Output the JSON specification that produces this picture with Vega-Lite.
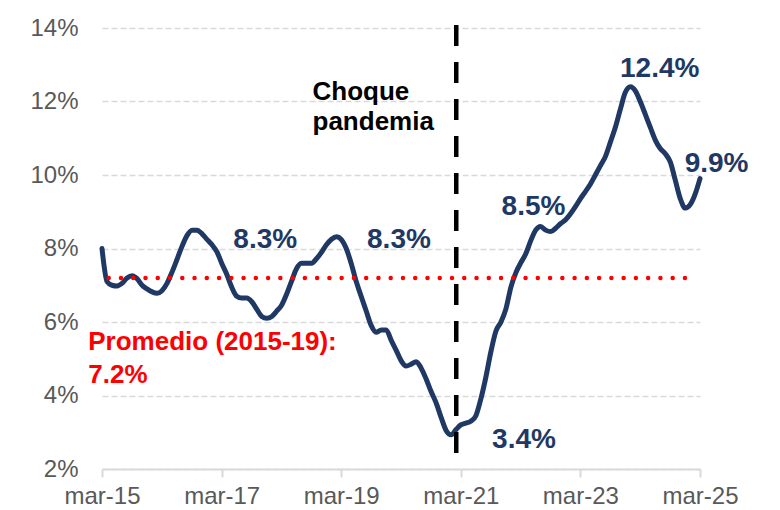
{
  "$schema": "https://vega.github.io/schema/vega-lite/v6.json",
  "autosize": {"type": "none"},
  "width": 598,
  "height": 441,
  "padding": {"left": 102, "top": 28, "right": 80, "bottom": 41},
  "background": "white",
  "config": {"view": {"stroke": null}, "font": "Liberation Sans"},
  "datasets": {
    "series": [
      {"date": "2015-03-01", "value": 8.0},
      {"date": "2015-04-01", "value": 7.1},
      {"date": "2015-05-01", "value": 7.0},
      {"date": "2015-06-01", "value": 6.98},
      {"date": "2015-07-01", "value": 7.05},
      {"date": "2015-08-01", "value": 7.2},
      {"date": "2015-09-01", "value": 7.26},
      {"date": "2015-10-01", "value": 7.18},
      {"date": "2015-11-01", "value": 7.0},
      {"date": "2015-12-01", "value": 6.9},
      {"date": "2016-01-01", "value": 6.82},
      {"date": "2016-02-01", "value": 6.78},
      {"date": "2016-03-01", "value": 6.85},
      {"date": "2016-04-01", "value": 7.05},
      {"date": "2016-05-01", "value": 7.35},
      {"date": "2016-06-01", "value": 7.7},
      {"date": "2016-07-01", "value": 8.05},
      {"date": "2016-08-01", "value": 8.35},
      {"date": "2016-09-01", "value": 8.5},
      {"date": "2016-10-01", "value": 8.5},
      {"date": "2016-11-01", "value": 8.4},
      {"date": "2016-12-01", "value": 8.25},
      {"date": "2017-01-01", "value": 8.1},
      {"date": "2017-02-01", "value": 7.9},
      {"date": "2017-03-01", "value": 7.6},
      {"date": "2017-04-01", "value": 7.3},
      {"date": "2017-05-01", "value": 6.95},
      {"date": "2017-06-01", "value": 6.7},
      {"date": "2017-07-01", "value": 6.65},
      {"date": "2017-08-01", "value": 6.65},
      {"date": "2017-09-01", "value": 6.55},
      {"date": "2017-10-01", "value": 6.35},
      {"date": "2017-11-01", "value": 6.15},
      {"date": "2017-12-01", "value": 6.1},
      {"date": "2018-01-01", "value": 6.15},
      {"date": "2018-02-01", "value": 6.3},
      {"date": "2018-03-01", "value": 6.45},
      {"date": "2018-04-01", "value": 6.75},
      {"date": "2018-05-01", "value": 7.1},
      {"date": "2018-06-01", "value": 7.45},
      {"date": "2018-07-01", "value": 7.6},
      {"date": "2018-08-01", "value": 7.6},
      {"date": "2018-09-01", "value": 7.6},
      {"date": "2018-10-01", "value": 7.72},
      {"date": "2018-11-01", "value": 7.9},
      {"date": "2018-12-01", "value": 8.1},
      {"date": "2019-01-01", "value": 8.25},
      {"date": "2019-02-01", "value": 8.32},
      {"date": "2019-03-01", "value": 8.25},
      {"date": "2019-04-01", "value": 8.0},
      {"date": "2019-05-01", "value": 7.6},
      {"date": "2019-06-01", "value": 7.1},
      {"date": "2019-07-01", "value": 6.7},
      {"date": "2019-08-01", "value": 6.3},
      {"date": "2019-09-01", "value": 5.9},
      {"date": "2019-10-01", "value": 5.72},
      {"date": "2019-11-01", "value": 5.78},
      {"date": "2019-12-01", "value": 5.78},
      {"date": "2020-01-01", "value": 5.5},
      {"date": "2020-02-01", "value": 5.22},
      {"date": "2020-03-01", "value": 4.95},
      {"date": "2020-04-01", "value": 4.8},
      {"date": "2020-05-01", "value": 4.85},
      {"date": "2020-06-01", "value": 4.92},
      {"date": "2020-07-01", "value": 4.75},
      {"date": "2020-08-01", "value": 4.45},
      {"date": "2020-09-01", "value": 4.1},
      {"date": "2020-10-01", "value": 3.8},
      {"date": "2020-11-01", "value": 3.4},
      {"date": "2020-12-01", "value": 3.05},
      {"date": "2021-01-01", "value": 2.93},
      {"date": "2021-02-01", "value": 3.08},
      {"date": "2021-03-01", "value": 3.2},
      {"date": "2021-04-01", "value": 3.25},
      {"date": "2021-05-01", "value": 3.3},
      {"date": "2021-06-01", "value": 3.45},
      {"date": "2021-07-01", "value": 3.9},
      {"date": "2021-08-01", "value": 4.5},
      {"date": "2021-09-01", "value": 5.2},
      {"date": "2021-10-01", "value": 5.75},
      {"date": "2021-11-01", "value": 6.0},
      {"date": "2021-12-01", "value": 6.35},
      {"date": "2022-01-01", "value": 6.95},
      {"date": "2022-02-01", "value": 7.35},
      {"date": "2022-03-01", "value": 7.6},
      {"date": "2022-04-01", "value": 7.85},
      {"date": "2022-05-01", "value": 8.2},
      {"date": "2022-06-01", "value": 8.5},
      {"date": "2022-07-01", "value": 8.6},
      {"date": "2022-08-01", "value": 8.5},
      {"date": "2022-09-01", "value": 8.46},
      {"date": "2022-10-01", "value": 8.55},
      {"date": "2022-11-01", "value": 8.68},
      {"date": "2022-12-01", "value": 8.78},
      {"date": "2023-01-01", "value": 8.95},
      {"date": "2023-02-01", "value": 9.15},
      {"date": "2023-03-01", "value": 9.35},
      {"date": "2023-04-01", "value": 9.55},
      {"date": "2023-05-01", "value": 9.75},
      {"date": "2023-06-01", "value": 10.0},
      {"date": "2023-07-01", "value": 10.25},
      {"date": "2023-08-01", "value": 10.5},
      {"date": "2023-09-01", "value": 10.9},
      {"date": "2023-10-01", "value": 11.3},
      {"date": "2023-11-01", "value": 11.8},
      {"date": "2023-12-01", "value": 12.25},
      {"date": "2024-01-01", "value": 12.4},
      {"date": "2024-02-01", "value": 12.28},
      {"date": "2024-03-01", "value": 12.0},
      {"date": "2024-04-01", "value": 11.65},
      {"date": "2024-05-01", "value": 11.3},
      {"date": "2024-06-01", "value": 10.95},
      {"date": "2024-07-01", "value": 10.72},
      {"date": "2024-08-01", "value": 10.58},
      {"date": "2024-09-01", "value": 10.35},
      {"date": "2024-10-01", "value": 9.86},
      {"date": "2024-11-01", "value": 9.35},
      {"date": "2024-12-01", "value": 9.1},
      {"date": "2025-01-01", "value": 9.2},
      {"date": "2025-02-01", "value": 9.5},
      {"date": "2025-03-01", "value": 9.9}
    ],
    "labels": [
      {"date": "2017-11-22", "value": 8.01, "label": "8.3%"},
      {"date": "2020-02-17", "value": 8.01, "label": "8.3%"},
      {"date": "2022-05-19", "value": 8.91, "label": "8.5%"},
      {"date": "2024-06-28", "value": 12.67, "label": "12.4%"},
      {"date": "2025-06-10", "value": 10.09, "label": "9.9%"},
      {"date": "2022-03-22", "value": 2.56, "label": "3.4%"}
    ]
  },
  "layer": [
    {
      "data": {"name": "series"},
      "mark": {"type": "line", "color": "#1F3864", "strokeWidth": 5, "interpolate": "monotone", "strokeJoin": "round", "strokeCap": "round"},
      "encoding": {
        "x": {
          "field": "date", "type": "temporal",
          "scale": {"type": "utc", "domain": [{"year": 2015, "month": 3, "date": 1, "utc": true}, {"year": 2025, "month": 3, "date": 1, "utc": true}]},
          "axis": {
            "title": null,
            "values": [
              {"year": 2015, "month": 3, "date": 1, "utc": true},
              {"year": 2017, "month": 3, "date": 1, "utc": true},
              {"year": 2019, "month": 3, "date": 1, "utc": true},
              {"year": 2021, "month": 3, "date": 1, "utc": true},
              {"year": 2023, "month": 3, "date": 1, "utc": true},
              {"year": 2025, "month": 3, "date": 1, "utc": true}
            ],
            "labelExpr": "lower(utcFormat(datum.value, '%b-%y'))",
            "grid": false,
            "domainColor": "#D9D9D9", "domainWidth": 2,
            "tickColor": "#D9D9D9", "tickWidth": 2, "tickSize": 8,
            "labelFontSize": 24, "labelColor": "#595959", "labelFont": "Liberation Sans",
            "labelPadding": 7, "labelFlush": false, "labelOverlap": false
          }
        },
        "y": {
          "field": "value", "type": "quantitative",
          "scale": {"domain": [2, 14], "nice": false, "zero": false},
          "axis": {
            "title": null,
            "values": [2, 4, 6, 8, 10, 12, 14],
            "labelExpr": "datum.value + '%'",
            "domain": false, "ticks": false,
            "grid": true, "gridColor": "#D9D9D9", "gridWidth": 1.5, "gridDash": [6, 3],
            "labelFontSize": 24, "labelColor": "#595959", "labelFont": "Liberation Sans",
            "labelPadding": 24
          }
        }
      }
    },
    {
      "data": {"values": [{"start": "2015-04-11", "end": "2025-02-10", "avg": 7.2}]},
      "mark": {"type": "rule", "color": "#FF0000", "strokeWidth": 4.5, "strokeDash": [0, 12.26], "strokeCap": "round"},
      "encoding": {
        "x": {"field": "start", "type": "temporal"},
        "x2": {"field": "end"},
        "y": {"field": "avg", "type": "quantitative"}
      }
    },
    {
      "data": {"values": [{"date": "2021-02-01", "top": 14.08, "bottom": 2.35}]},
      "mark": {"type": "rule", "color": "#000000", "strokeWidth": 4.5, "strokeDash": [21, 16]},
      "encoding": {
        "x": {"field": "date", "type": "temporal"},
        "y": {"field": "top", "type": "quantitative"},
        "y2": {"field": "bottom"}
      }
    },
    {
      "data": {"name": "labels"},
      "mark": {"type": "text", "color": "#1F3864", "fontSize": 28, "fontWeight": "bold", "font": "Liberation Sans", "align": "center", "baseline": "alphabetic"},
      "encoding": {
        "x": {"field": "date", "type": "temporal"},
        "y": {"field": "value", "type": "quantitative"},
        "text": {"field": "label"}
      }
    },
    {
      "data": {"values": [{"date": "2018-09-07", "value": 12.04, "label": "Choque\npandemia"}]},
      "mark": {"type": "text", "color": "#000000", "fontSize": 26, "fontWeight": "bold", "font": "Liberation Sans", "align": "left", "baseline": "alphabetic", "lineBreak": "\n", "lineHeight": 30},
      "encoding": {
        "x": {"field": "date", "type": "temporal"},
        "y": {"field": "value", "type": "quantitative"},
        "text": {"field": "label"}
      }
    },
    {
      "data": {"values": [{"date": "2014-12-07", "value": 5.24, "label": "Promedio (2015-19):\n7.2%"}]},
      "mark": {"type": "text", "color": "#FF0000", "fontSize": 26, "fontWeight": "bold", "font": "Liberation Sans", "align": "left", "baseline": "alphabetic", "lineBreak": "\n", "lineHeight": 33},
      "encoding": {
        "x": {"field": "date", "type": "temporal"},
        "y": {"field": "value", "type": "quantitative"},
        "text": {"field": "label"}
      }
    }
  ]
}
